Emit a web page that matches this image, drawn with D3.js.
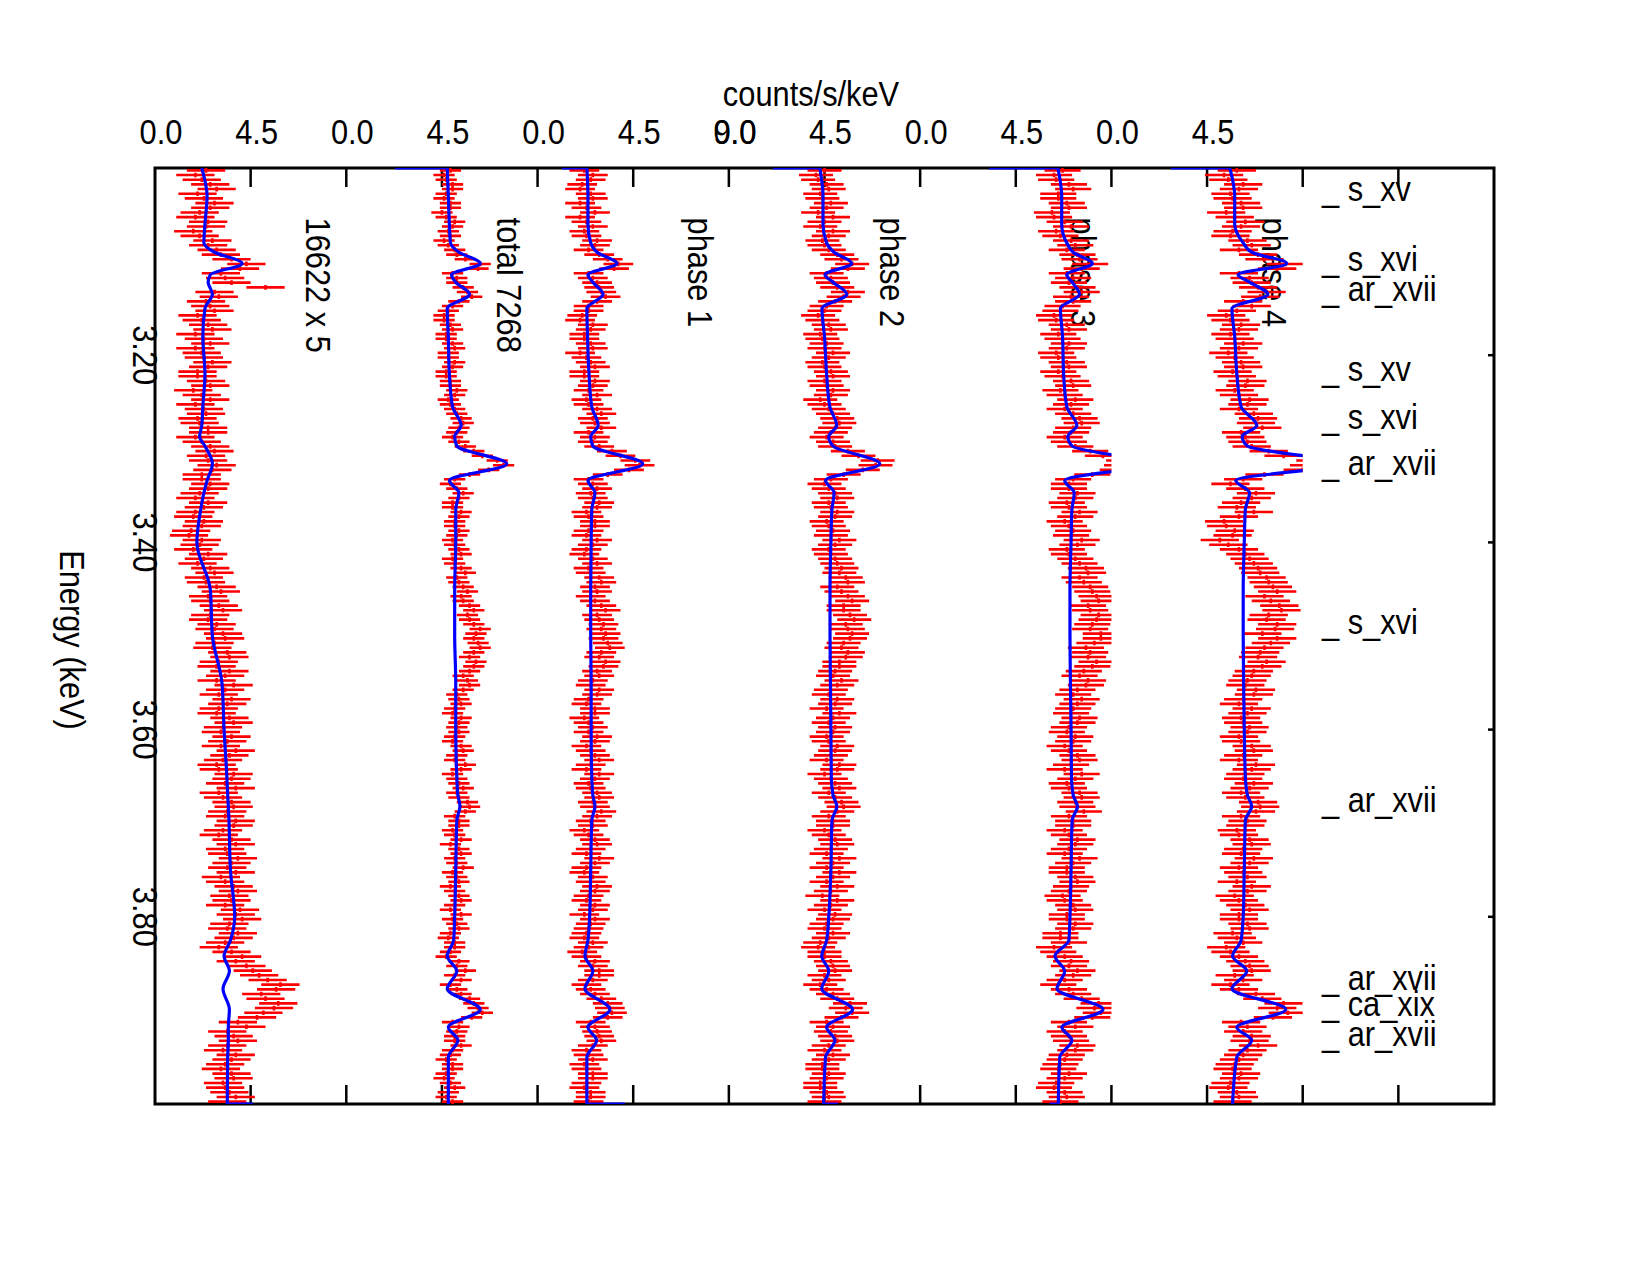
<!DOCTYPE html>
<html>
<head>
<meta charset="utf-8">
<script src="https://cdn.jsdelivr.net/npm/d3@7"></script>
<style>
  body { margin: 0; background: #fff; }
  text { font-family: "Liberation Sans", Arial, Helvetica, sans-serif; fill: #000; }
</style>
</head>
<body>
<svg id="chart" width="1650" height="1275"></svg>
<script>
// Six stacked spectra, energy runs downwards, counts/s/keV to the right
var panelNames = ["16622 x 5", "total 7268", "phase 1", "phase 2", "phase 3", "phase 4"];
var errBars = [0.9, 0.5, 0.7, 0.8, 0.85, 0.9];     // half length of count error bars
var binStart = 3.0025, binWidth = 0.005;            // data bins, keV

var data16622 = [
  2.4,1.9, 2.2,2.6, 2.9,2.0, 2.3,2.8, 2.6,2.1, 1.9,2.5, 2.4,1.8, 2.1,2.7, 2.5,2.9, 3.1,3.6,
  4.3,4.0, 3.1,3.3, 3.6,5.2, 2.8,3.0, 2.4,2.6, 2.8,2.0, 2.2,2.5, 2.7,1.9, 2.3,2.6, 1.9,2.2,
  2.3,2.7, 2.5,2.0, 2.0,2.4, 2.6,1.8, 2.2,2.6, 1.9,2.3, 2.4,2.0, 2.1,2.5, 2.5,1.9, 2.2,2.6,
  2.8,2.4, 2.5,2.9, 2.7,2.2, 2.2,2.6, 2.5,2.1, 1.9,2.5, 2.3,1.9, 1.8,2.3, 2.2,1.7, 1.6,2.2,
  2.1,1.8, 2.5,2.3, 2.0,2.6, 2.8,2.3, 2.4,2.9, 3.1,2.5, 2.6,3.0, 3.2,2.6, 2.5,2.9, 2.8,3.2,
  3.3,2.8, 2.7,3.4, 3.5,3.0, 2.9,3.5, 3.3,2.9, 3.7,3.3, 3.0,3.6, 3.4,3.0, 2.9,3.5, 3.7,3.2,
  3.1,3.6, 3.4,3.1, 3.8,3.5, 3.2,2.9, 3.0,3.7, 3.6,3.3, 3.8,3.0, 3.2,3.6, 3.7,3.4, 3.3,3.8,
  3.7,3.2, 3.0,3.6, 3.8,3.3, 3.4,3.9, 3.6,3.4, 3.8,3.1, 3.3,3.7, 3.9,3.5, 3.6,3.3, 4.0,3.8,
  4.1,3.5, 3.4,3.9, 3.7,3.3, 3.0,3.6, 4.1,3.8, 4.3,4.6, 4.9,5.3, 5.9,5.7, 5.0,5.2, 5.8,5.6,
  5.1,4.8, 3.9,4.3, 3.4,3.7, 3.9,3.4, 3.2,3.8, 3.6,3.3, 3.1,3.6, 3.7,3.2, 3.3,3.5, 3.8,3.4
];
var dataTotal = [
  4.9,4.6, 4.7,5.0, 5.0,4.7, 4.6,4.9, 4.9,4.5, 4.7,5.1, 5.0,4.8, 4.9,4.6, 4.8,5.1, 5.2,5.6,
  6.3,6.2, 5.0,5.2, 5.2,5.5, 5.7,5.9, 5.3,5.0, 4.8,4.6, 4.6,4.9, 5.0,4.7, 4.7,5.0, 5.1,4.8,
  4.8,5.1, 5.0,4.7, 4.7,4.9, 4.9,5.2, 5.1,4.8, 4.9,5.1, 5.2,5.4, 5.5,5.3, 5.2,5.0, 5.3,5.6,
  6.0,6.4, 7.1,7.4, 6.7,5.8, 5.1,4.9, 5.2,5.5, 5.3,5.0, 5.0,5.4, 5.3,5.1, 5.1,5.3, 5.2,5.0,
  5.1,5.3, 5.4,5.0, 5.1,5.4, 5.6,5.2, 5.3,5.5, 5.7,5.4, 5.5,5.8, 6.0,5.7, 5.8,6.0, 6.3,6.1,
  6.0,6.2, 6.3,6.0, 5.8,6.1, 6.0,5.8, 5.5,5.7, 5.8,5.5, 5.2,5.3, 5.4,5.1, 5.0,5.4, 5.3,5.2,
  5.3,5.1, 5.0,5.4, 5.5,5.2, 5.1,5.6, 5.4,5.0, 5.2,5.3, 5.5,5.2, 5.3,5.7, 5.8,5.6, 5.1,5.3,
  5.3,5.0, 5.1,5.4, 4.9,5.3, 5.4,5.1, 5.2,5.5, 5.0,5.2, 5.3,4.9, 5.1,5.3, 5.4,5.1, 4.9,5.4,
  5.0,5.2, 5.3,4.9, 4.8,5.1, 5.1,4.9, 4.7,5.3, 5.2,5.6, 5.1,5.4, 4.9,5.2, 5.4,5.8, 6.0,6.2,
  6.4,5.9, 5.0,5.3, 5.2,5.1, 5.1,5.4, 5.0,4.9, 4.7,5.0, 5.0,4.7, 4.6,4.9, 5.1,4.8, 4.7,5.0
];
var dataPhase1 = [
  2.2,2.6, 2.5,2.1, 2.0,2.5, 2.6,2.0, 2.3,2.7, 2.0,2.3, 2.6,2.2, 2.3,2.8, 2.7,2.4, 2.9,3.3,
  3.8,3.6, 2.4,2.6, 2.8,2.9, 3.0,3.2, 2.8,2.4, 2.4,2.1, 2.0,2.6, 2.5,2.2, 2.2,2.5, 2.6,2.0,
  2.3,2.5, 2.7,2.2, 2.2,2.7, 2.6,2.4, 2.8,2.3, 2.4,2.8, 3.0,2.6, 2.7,3.0, 2.4,2.7, 2.6,2.9,
  3.5,3.9, 4.6,4.8, 4.3,3.3, 2.4,2.6, 2.8,2.5, 2.6,2.9, 2.8,2.3, 2.4,2.7, 2.7,2.4, 2.3,2.8,
  2.6,2.3, 2.2,2.6, 2.8,2.4, 2.5,2.9, 3.0,2.7, 2.8,2.5, 2.7,3.0, 3.2,2.8, 2.9,3.1, 3.0,3.2,
  3.1,3.3, 3.4,3.0, 2.9,3.2, 3.1,2.8, 2.9,2.6, 2.5,2.9, 2.8,2.4, 2.3,2.7, 2.7,2.2, 2.4,2.6,
  2.4,2.8, 2.7,2.3, 2.5,2.7, 2.9,2.5, 2.3,2.9, 2.7,2.4, 2.5,2.8, 2.9,2.6, 2.7,3.0, 2.8,2.5,
  2.6,2.2, 2.4,2.7, 2.8,2.5, 2.3,2.9, 2.7,2.3, 2.2,2.6, 2.5,2.8, 2.7,2.4, 2.3,2.7, 2.6,2.2,
  2.7,2.5, 2.4,2.3, 2.2,2.6, 2.4,2.1, 2.3,2.7, 2.6,2.9, 2.9,2.6, 2.3,2.5, 2.7,3.0, 3.3,3.4,
  3.5,3.3, 2.5,2.7, 2.8,2.9, 3.0,2.6, 2.3,2.4, 2.6,2.2, 2.3,2.6, 2.6,2.3, 2.2,2.5, 2.5,2.4
];
var dataPhase2 = [
  4.5,4.1, 4.2,4.6, 4.7,4.3, 4.4,4.8, 4.6,4.2, 4.9,4.5, 4.3,4.9, 4.7,4.4, 4.5,4.7, 5.1,5.3,
  5.8,5.6, 4.6,4.8, 4.9,5.1, 5.6,5.4, 5.0,4.6, 4.5,4.2, 4.4,4.7, 4.8,4.3, 4.4,4.6, 4.5,4.9,
  4.7,4.4, 4.5,4.8, 4.9,4.5, 4.6,4.9, 4.8,4.3, 4.5,4.7, 4.9,5.1, 5.2,5.0, 4.8,4.6, 4.9,5.0,
  5.6,6.1, 7.0,6.9, 6.3,5.4, 4.8,4.5, 4.7,5.0, 5.1,4.7, 4.8,5.1, 5.0,4.6, 4.7,4.9, 4.8,5.2,
  5.0,4.7, 4.8,5.0, 5.1,5.3, 5.2,5.5, 5.6,5.1, 5.3,5.6, 5.8,5.4, 5.4,5.7, 5.9,5.5, 5.6,5.8,
  5.7,5.4, 5.3,5.6, 5.5,5.2, 5.2,5.0, 4.9,5.3, 5.1,4.8, 4.7,5.1, 5.0,4.6, 5.2,4.9, 4.7,5.0,
  4.9,4.6, 4.7,5.1, 5.0,4.8, 4.6,5.2, 5.1,4.5, 4.8,5.0, 5.2,4.7, 5.0,5.3, 5.4,5.1, 4.7,4.9,
  4.9,4.5, 4.7,5.0, 5.1,4.8, 4.6,5.2, 4.9,4.6, 5.2,4.9, 4.6,5.1, 4.8,4.4, 5.1,4.8, 4.5,5.0,
  4.9,4.6, 4.5,4.9, 4.7,4.3, 4.2,4.5, 4.5,4.8, 4.9,5.0, 4.5,4.7, 4.3,4.6, 4.9,5.1, 5.7,5.5,
  5.8,5.3, 4.6,4.9, 4.8,5.0, 5.1,4.7, 4.5,4.9, 4.7,4.4, 4.4,4.7, 4.6,4.3, 4.3,4.6, 4.7,4.5
];
var dataPhase3 = [
  6.7,6.3, 6.4,7.0, 7.2,6.5, 6.5,6.9, 7.0,6.2, 6.3,6.8, 7.1,6.4, 6.6,7.1, 7.3,6.9, 7.4,7.5,
  8.0,7.6, 6.9,7.2, 7.0,7.4, 7.6,7.1, 7.2,6.7, 6.6,6.3, 6.4,6.9, 7.0,6.5, 6.7,7.0, 6.9,6.4,
  6.5,6.9, 7.0,6.5, 6.7,7.1, 7.2,6.6, 6.8,7.3, 7.1,6.8, 7.2,7.5, 7.6,7.2, 7.1,6.8, 7.0,7.3,
  8.0,8.6, 9.6,9.5, 9.3,8.1, 7.2,7.0, 7.0,7.4, 7.3,6.9, 7.0,7.5, 7.3,6.8, 7.0,7.2, 7.1,7.6,
  7.4,6.9, 7.0,7.3, 7.5,7.8, 7.9,7.5, 7.7,8.0, 8.1,8.3, 8.4,7.9, 8.0,8.4, 8.3,8.1, 8.0,8.5,
  8.5,8.2, 7.8,8.0, 7.9,8.3, 8.1,7.7, 7.5,7.9, 7.8,7.4, 7.2,7.6, 7.4,7.2, 7.1,7.5, 7.4,7.0,
  6.9,7.3, 7.2,6.8, 7.0,7.4, 7.5,7.1, 6.8,7.6, 7.3,6.9, 7.0,7.5, 7.6,7.3, 7.4,7.7, 7.0,7.2,
  7.2,6.8, 7.0,7.4, 7.3,7.0, 6.8,7.5, 7.2,6.9, 6.9,7.3, 7.4,7.1, 7.0,6.7, 6.8,7.2, 7.3,6.9,
  6.9,7.3, 7.2,6.6, 6.6,7.0, 6.3,6.5, 6.8,7.1, 7.0,7.4, 7.2,6.8, 6.5,7.0, 7.2,7.6, 8.4,8.2,
  8.5,8.1, 7.0,7.3, 6.8,7.0, 7.1,7.4, 7.3,6.9, 6.8,6.6, 6.5,7.0, 6.8,6.4, 6.3,6.8, 6.9,6.6
];
var dataPhase4 = [
  5.9,5.3, 5.5,6.2, 6.0,5.6, 5.7,6.1, 6.2,5.4, 5.8,6.3, 6.1,5.7, 5.6,6.4, 6.6,6.0, 6.9,7.2,
  8.2,7.8, 6.0,6.5, 6.6,6.9, 7.3,7.0, 6.2,6.6, 5.9,5.4, 5.6,6.1, 6.0,5.6, 5.8,6.2, 6.0,5.5,
  5.8,6.1, 6.2,5.7, 5.9,6.4, 6.3,5.8, 6.0,6.5, 6.4,6.0, 6.7,6.9, 6.8,7.1, 6.1,6.3, 6.4,6.6,
  7.4,8.1, 9.6,9.3, 9.0,7.2, 6.2,5.6, 6.3,6.8, 6.6,6.1, 5.9,6.7, 6.0,5.3, 5.4,5.8, 5.7,5.1,
  5.5,6.0, 6.3,6.5, 6.7,6.9, 7.0,7.3, 7.4,7.6, 7.8,7.2, 7.5,7.9, 8.0,7.4, 7.3,7.8, 7.7,7.1,
  7.8,7.5, 7.2,7.0, 6.9,7.3, 7.1,6.7, 6.6,6.4, 6.3,6.8, 6.7,6.2, 6.0,6.6, 6.4,6.1, 6.2,6.5,
  6.4,6.0, 6.1,6.6, 6.7,6.2, 6.0,6.8, 6.6,6.3, 6.2,6.7, 6.5,6.1, 6.3,6.9, 7.0,6.8, 6.1,6.4,
  6.3,5.9, 6.0,6.5, 6.6,6.2, 6.1,6.7, 6.5,6.0, 6.2,6.4, 5.9,6.6, 6.4,5.8, 6.0,6.3, 6.5,6.0,
  6.0,6.4, 6.5,5.7, 5.9,6.2, 5.4,5.6, 6.0,6.3, 6.5,6.6, 5.8,6.2, 5.6,6.0, 6.8,7.1, 8.1,7.8,
  8.3,7.6, 6.1,6.4, 6.2,6.6, 6.5,6.9, 6.4,6.2, 6.0,5.8, 5.7,6.1, 6.0,5.6, 5.5,5.9, 6.0,5.7
];

// model curve sample energies (keV) and values per panel
var modelE = [3.000, 3.030, 3.060, 3.080, 3.090, 3.102, 3.114, 3.122, 3.135, 3.150,
              3.180, 3.220, 3.255, 3.275, 3.287, 3.297, 3.316, 3.334, 3.347, 3.365,
              3.400, 3.450, 3.500, 3.550, 3.600, 3.650, 3.670, 3.682, 3.697, 3.750,
              3.800, 3.825, 3.842, 3.858, 3.877, 3.899, 3.918, 3.932, 3.950, 4.000];
var model16622 = [2.2, 2.45, 2.35, 2.3, 2.8, 4.1, 2.6, 2.5, 2.7, 2.35,
                  2.25, 2.35, 2.25, 2.2, 2.1, 2.35, 2.7, 2.45, 2.3, 2.15,
                  1.97, 2.6, 2.7, 3.15, 3.25, 3.38, 3.42, 3.45, 3.48, 3.55,
                  3.75, 3.55, 3.25, 3.5, 3.2, 3.5, 3.45, 3.45, 3.42, 3.4];
var modelTotal = [4.75, 4.8, 4.85, 4.9, 5.3, 6.3, 4.95, 5.15, 5.8, 4.75,
                  4.8, 4.85, 5.0, 5.4, 5.1, 5.2, 7.55, 4.85, 5.3, 5.15,
                  5.15, 5.1, 5.1, 5.15, 5.15, 5.2, 5.25, 5.35, 5.2, 5.15,
                  5.1, 5.05, 4.75, 5.2, 4.75, 6.3, 4.8, 5.25, 4.8, 4.8];
var modelPhase1 = [2.32, 2.37, 2.37, 2.5, 2.8, 3.73, 2.37, 2.6, 3.08, 2.32,
                   2.35, 2.42, 2.55, 2.85, 2.5, 2.6, 4.95, 2.37, 2.7, 2.55,
                   2.52, 2.5, 2.5, 2.52, 2.52, 2.55, 2.6, 2.7, 2.55, 2.5,
                   2.45, 2.37, 2.23, 2.6, 2.23, 3.4, 2.37, 2.78, 2.32, 2.32];
var modelPhase2 = [4.28, 4.43, 4.43, 4.6, 4.95, 5.78, 4.52, 4.9, 5.55, 4.38,
                   4.5, 4.6, 4.75, 5.07, 4.7, 4.9, 7.1, 4.55, 4.95, 4.85,
                   4.8, 4.76, 4.76, 4.78, 4.8, 4.82, 4.9, 5.08, 4.85, 4.8,
                   4.7, 4.6, 4.37, 4.7, 4.37, 5.82, 4.6, 4.99, 4.55, 4.46];
var modelPhase3 = [6.48, 6.66, 6.66, 6.9, 7.2, 8.1, 6.9, 7.15, 7.5, 6.6,
                   6.7, 6.75, 6.9, 7.37, 6.95, 7.15, 10.8, 6.8, 7.25, 7.14,
                   7.1, 7.05, 7.05, 7.07, 7.1, 7.12, 7.2, 7.4, 7.15, 7.1,
                   7.05, 7.0, 6.34, 6.8, 6.44, 8.6, 6.67, 7.14, 6.57, 6.5];
var modelPhase4 = [5.57, 5.8, 5.8, 6.2, 6.6, 8.25, 5.96, 6.5, 7.36, 5.67,
                   5.8, 5.9, 6.1, 6.84, 6.15, 6.4, 10.8, 5.85, 6.5, 6.3,
                   6.25, 6.2, 6.2, 6.22, 6.25, 6.3, 6.4, 6.6, 6.3, 6.25,
                   6.2, 6.1, 5.7, 6.37, 5.67, 8.2, 5.9, 6.6, 5.9, 5.7];
// model end values just outside the plotted band (drawn along the frame)
var edgeTop = [null, 2.3, 1.15, 2.07, 3.24, 2.8];
var edgeBottom = [4.6, null, 4.1, 5.13, 6.1, null];

var panelData = [data16622, dataTotal, dataPhase1, dataPhase2, dataPhase3, dataPhase4];
var panelModel = [model16622, modelTotal, modelPhase1, modelPhase2, modelPhase3, modelPhase4];

var countTicks = [4.5, 9, 13.5, 18, 22.5, 27, 31.5, 36, 40.5, 45, 49.5, 54, 58.5];
var countLabelPos = [0, 4.5, 9, 13.5, 18, 22.5, 27, 27, 31.5, 36, 40.5, 45, 49.5];
var countLabelText = ["0.0", "4.5", "0.0", "4.5", "0.0", "4.5", "9.0", "0.0", "4.5", "0.0", "4.5", "0.0", "4.5"];
var energyTicks = [3.2, 3.4, 3.6, 3.8];

var lineE = [3.032, 3.107, 3.139, 3.224, 3.276, 3.325, 3.495, 3.685, 3.875, 3.903, 3.935];
var lineNames = ["s_xv", "s_xvi", "ar_xvii", "s_xv", "s_xvi", "ar_xvii", "s_xvi", "ar_xvii", "ar_xvii", "ca_xix", "ar_xvii"];

// layout
var L = 155, R = 1494, T = 168, B = 1104;
var PANEL = 9;
var FS = 35, SQ = 0.88;

var svg = d3.select("#chart");
var x = d3.scaleLinear().domain([0, 63]).range([L, R]);
var y = d3.scaleLinear().domain([3.0, 4.0]).range([T, B]);

// frame and ticks
svg.append("rect")
    .attr("x", L).attr("y", T).attr("width", R - L).attr("height", B - T)
    .attr("fill", "none").attr("stroke", "#000").attr("stroke-width", 3);

svg.append("g").selectAll("line.top").data(countTicks).enter().append("line")
    .attr("x1", function (d) { return x(d); }).attr("x2", function (d) { return x(d); })
    .attr("y1", T).attr("y2", T + 19)
    .attr("stroke", "#000").attr("stroke-width", 2.5);
svg.append("g").selectAll("line.bot").data(countTicks).enter().append("line")
    .attr("x1", function (d) { return x(d); }).attr("x2", function (d) { return x(d); })
    .attr("y1", B).attr("y2", B - 19)
    .attr("stroke", "#000").attr("stroke-width", 2.5);
svg.append("g").selectAll("line").data(energyTicks).enter().append("line")
    .attr("x1", R).attr("x2", R - 6)
    .attr("y1", function (d) { return y(d); }).attr("y2", function (d) { return y(d); })
    .attr("stroke", "#000").attr("stroke-width", 2.5);

// axis labels
svg.append("g").selectAll("text").data(countLabelPos).enter().append("text")
    .attr("transform", function (d) { return "translate(" + (x(d) + 6) + ",144) scale(" + SQ + ",1)"; })
    .attr("text-anchor", "middle").attr("font-size", FS)
    .text(function (d, i) { return countLabelText[i]; });

svg.append("text")
    .attr("transform", "translate(811,106) scale(" + SQ + ",1)")
    .attr("text-anchor", "middle").attr("font-size", FS)
    .text("counts/s/keV");

svg.append("g").selectAll("text").data(energyTicks).enter().append("text")
    .attr("transform", function (d) { return "translate(133," + y(d) + ") rotate(90) scale(" + SQ + ",1)"; })
    .attr("text-anchor", "middle").attr("font-size", FS)
    .text(function (d) { return d.toFixed(2); });

svg.append("text")
    .attr("transform", "translate(60,640) rotate(90) scale(" + SQ + ",1)")
    .attr("text-anchor", "middle").attr("font-size", FS)
    .text("Energy (keV)");

// line identifications
svg.append("g").selectAll("text").data(lineE).enter().append("text")
    .attr("transform", function (d) { return "translate(1322," + (y(d) + 3) + ") scale(" + SQ + ",1)"; })
    .attr("font-size", FS)
    .text(function (d, i) { return "_ " + lineNames[i]; });

// panel names (under the data)
svg.append("g").selectAll("text").data(panelNames).enter().append("text")
    .attr("transform", function (d, k) { return "translate(" + x(PANEL * k + 7.1) + "," + y(3.053) + ") rotate(90) scale(" + SQ + ",1)"; })
    .attr("font-size", FS)
    .text(function (d) { return d; });

// spectra
var defs = svg.append("defs");
panelData.forEach(function (vals, k) {
    var off = PANEL * k;
    defs.append("clipPath").attr("id", "clip" + k).append("rect")
        .attr("x", x(off)).attr("y", T)
        .attr("width", x(off + PANEL) - x(off)).attr("height", B - T);

    var g = svg.append("g").attr("clip-path", "url(#clip" + k + ")");
    var err = errBars[k];
    var p = d3.path();
    vals.forEach(function (v, i) {
        var e = binStart + binWidth * i;
        p.moveTo(x(off + v - err), y(e));
        p.lineTo(x(off + v + err), y(e));
        p.moveTo(x(off + v), y(e - binWidth / 2));
        p.lineTo(x(off + v), y(e + binWidth / 2));
    });
    g.append("path").attr("d", p.toString())
        .attr("fill", "none").attr("stroke", "#ff0000").attr("stroke-width", 2.6);

    var pts = panelModel[k].map(function (v, i) { return { e: modelE[i], v: v }; });
    var line = d3.line()
        .x(function (d) { return x(off + d.v); })
        .y(function (d) { return y(d.e); })
        .curve(d3.curveMonotoneY);
    g.append("path").attr("d", line(pts))
        .attr("fill", "none").attr("stroke", "#0000ff").attr("stroke-width", 3.2);

    var edges = [];
    if (edgeTop[k] !== null) edges.push([edgeTop[k], pts[0].v, 3.0]);
    if (edgeBottom[k] !== null) edges.push([pts[pts.length - 1].v, edgeBottom[k], 4.0]);
    g.selectAll("line.edge").data(edges).enter().append("line")
        .attr("x1", function (d) { return x(off + d[0]); })
        .attr("x2", function (d) { return x(off + d[1]); })
        .attr("y1", function (d) { return y(d[2]); })
        .attr("y2", function (d) { return y(d[2]); })
        .attr("stroke", "#0000ff").attr("stroke-width", 3.2);
});
</script>
</body>
</html>
